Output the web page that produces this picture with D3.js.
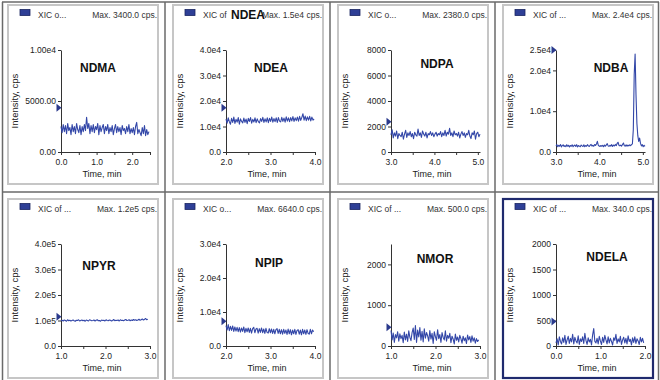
<!DOCTYPE html>
<html>
<head>
<meta charset="utf-8">
<script src="https://cdn.jsdelivr.net/npm/d3@7"></script>
<style>
  body { margin: 0; background: #fff; }
  svg { display: block; font-family: "Liberation Sans", Arial, sans-serif; }
</style>
</head>
<body>
<svg id="chart" width="660" height="380"></svg>
<script>
// ---- Data: one extracted-ion chromatogram per nitrosamine ----
const compounds = ["NDMA", "NDEA", "NDPA", "NDBA", "NPYR", "NPIP", "NMOR", "NDELA"];
const legendLabels = ["XIC o...", "XIC of ", "XIC o...", "XIC of ...", "XIC of ...", "XIC o...", "XIC of ...", "XIC of ..."];
const legendBold = ["", "NDEA", "", "", "", "", "", ""];
const maxLabels = ["Max. 3400.0 cps.", "Max. 1.5e4 cps.", "Max. 2380.0 cps.", "Max. 2.4e4 cps.",
                   "Max. 1.2e5 cps.", "Max. 6640.0 cps.", "Max. 500.0 cps.", "Max. 340.0 cps."];

// first and last scan time (min) of each trace
const scanRanges = [[0, 2.47], [2, 3.98], [3, 5.05], [3, 5.05], [1, 2.95], [2, 3.97], [1, 2.97], [0, 1.97]];

// axis ranges
const xDomains = [[0, 2.5], [2, 4], [3, 5.05], [3, 5.05], [1, 3], [2, 4], [1, 3], [0, 2]];
const yDomains = [[0, 10000], [0, 40000], [0, 8000], [0, 25000], [0, 400000], [0, 30000], [0, 2500], [0, 2000]];

// tick values and labels
const xTickValues = [
  [0, 0.5, 1, 1.5, 2, 2.5], [2, 2.5, 3, 3.5, 4], [3, 3.5, 4, 4.5, 5], [3, 3.5, 4, 4.5, 5],
  [1, 1.5, 2, 2.5, 3], [2, 2.5, 3, 3.5, 4], [1, 1.5, 2, 2.5, 3], [0, 0.5, 1, 1.5, 2]
];
const xTickLabels = [
  ["0.0", "", "1.0", "", "2.0", ""], ["2.0", "", "3.0", "", "4.0"], ["3.0", "", "4.0", "", "5.0"], ["3.0", "", "4.0", "", "5.0"],
  ["1.0", "", "2.0", "", "3.0"], ["2.0", "", "3.0", "", "4.0"], ["1.0", "", "2.0", "", "3.0"], ["0.0", "", "1.0", "", "2.0"]
];
const yTickValues = [
  [0, 5000, 10000], [0, 10000, 20000, 30000, 40000], [0, 2000, 4000, 6000, 8000], [0, 10000, 20000, 25000],
  [0, 100000, 200000, 300000, 400000], [0, 10000, 20000, 30000], [0, 1000, 2000], [0, 500, 1000, 1500, 2000]
];
const yTickLabels = [
  ["0.00", "5000.00", "1.00e4"], ["0.0", "1.0e4", "2.0e4", "3.0e4", "4.0e4"], ["0", "2000", "4000", "6000", "8000"],
  ["0.0", "1.0e4", "2.0e4", "2.5e4"], ["0.0", "1.0e5", "2.0e5", "3.0e5", "4.0e5"], ["0.0", "1.0e4", "2.0e4", "3.0e4"],
  ["0", "1000", "2000"], ["0", "500", "1000", "1500", "2000"]
];

// intensity level flagged by the arrow on each y axis (cps)
const markerLevels = [4350, 17400, 2380, 25000, 115000, 7300, 460, 480];

// intensities (cps), evenly spaced scans across scanRanges
const intensityNDMA = [
  2500, 1900, 2700, 2000, 2600, 1800, 2800, 2100, 2400, 1700,
  2700, 2000, 2500, 1800, 2800, 2200, 1900, 2600, 1700, 2500,
  2000, 2700, 2100, 3400, 2300, 2800, 1800, 2600, 2000, 2700,
  1900, 2500, 2200, 2800, 1700, 2600, 2000, 2400, 2700, 1800,
  2500, 2100, 2700, 1800, 2400, 2000, 2600, 1700, 2300, 2700,
  1900, 2500, 2000, 2400, 1700, 2600, 2100, 2300, 1800, 2500,
  2000, 2700, 1800, 2300, 1900, 2400, 1700, 2500, 2900, 1800,
  2200, 1900, 1600, 2400, 1800, 2600, 1600, 2200, 1700, 2000
];
const intensityNDEA = [
  12900, 11300, 13400, 11900, 10900, 13200, 11600, 13700, 11200, 12800,
  11700, 13500, 10900, 13000, 12000, 11400, 13300, 11600, 12900, 11100,
  13200, 12000, 13500, 11300, 12800, 11800, 13400, 11500, 13000, 11900,
  11400, 13100, 12000, 13600, 11600, 13000, 11800, 13400, 11500, 13200,
  12000, 13700, 11700, 13100, 11900, 13400, 11600, 13500, 12100, 11800,
  13600, 12000, 13300, 11700, 13800, 12100, 13400, 11900, 13500, 12200,
  13900, 12000, 13400, 12300, 13700, 12100, 14000, 12400, 13600, 15000,
  12500, 14100, 12300, 13800, 12500, 14000, 12200, 13700, 12500, 13000
];
const intensityNDPA = [
  1350, 1750, 1100, 1500, 1250, 1650, 1050, 1450, 1300, 1200,
  1550, 1000, 1400, 1700, 1150, 1500, 1300, 1600, 1200, 1450,
  1050, 1550, 1350, 1250, 1800, 1300, 1500, 1150, 1650, 1400,
  1250, 1550, 1100, 1450, 1350, 1600, 1300, 1500, 1200, 1400,
  1550, 1250, 1450, 1350, 1600, 1200, 1500, 1300, 1700, 1250,
  1550, 1400, 1850, 1300, 1500, 1200, 1650, 1350, 1450, 1250,
  1550, 1100, 1400, 1600, 1300, 1500, 1150, 1450, 1350, 1700,
  1250, 1050, 1500, 1350, 1650, 1000, 1450, 1550, 1200, 1400
];
const intensityNDBA = [
  1500, 1800, 1300, 1650, 1400, 1850, 1250, 1600, 1750, 1350,
  1550, 1300, 1800, 1400, 1650, 1250, 1600, 1400, 1750, 1300,
  1550, 1700, 1350, 1800, 1250, 1600, 1450, 1300, 1700, 1500,
  1350, 1750, 1300, 1600, 1400, 1800, 1500, 1350, 1650, 1850,
  1450, 1650, 1400, 1850, 1600, 1950, 2600, 1700, 1450, 1350,
  1600, 1400, 1650, 1300, 1700, 1450, 1750, 2050, 1500, 1400,
  1650, 1450, 1800, 1350, 1700, 1500, 1850, 1550, 2100, 2400,
  1650, 1500, 1700, 1450, 1850, 2200, 1550, 1450, 1750, 1400,
  1700, 1500, 1750, 1550, 1800, 2000, 5500, 19000, 24000, 14000,
  7000, 4000, 2600, 3400, 2100, 1500, 1800, 1300, 1650, 1400
];
const intensityNPYR = [
  99000, 101000, 98000, 102000, 100000, 97000, 103000, 99000, 101000, 98000,
  100000, 102000, 99000, 97000, 101000, 100000, 103000, 98000, 100000, 102000,
  99000, 101000, 97000, 102000, 100000, 98000, 103000, 101000, 99000, 100000,
  102000, 98000, 101000, 103000, 99000, 100000, 97000, 102000, 100000, 101000,
  98000, 103000, 100000, 99000, 102000, 101000, 98000, 100000, 104000, 99000,
  101000, 100000, 102000, 98000, 103000, 100000, 101000, 99000, 102000, 104000,
  100000, 101000, 103000, 99000, 102000, 100000, 104000, 101000, 103000, 100000,
  102000, 105000, 101000, 103000, 106000, 102000, 104000, 108000, 103000, 105000
];
const intensityNPIP = [
  6000, 4700, 6300, 4500, 5800, 4600, 5900, 4300, 5600, 4400,
  5500, 4200, 5400, 4100, 5300, 4300, 5600, 3900, 5200, 4200,
  5300, 4000, 5200, 3800, 5100, 5500, 3900, 5000, 5200, 3800,
  5100, 4000, 5300, 3900, 5000, 3700, 5200, 4000, 3800, 5100,
  3900, 5000, 3700, 4900, 3600, 4800, 5100, 3700, 4900, 3600,
  4800, 3500, 4900, 3700, 4700, 3400, 5000, 3600, 4800, 3300,
  4700, 3600, 4900, 3400, 4600, 4800, 3500, 4700, 3300, 4900,
  3600, 4700, 3400, 4800, 3700, 3500, 4900, 3600, 4700, 4200
];
const intensityNMOR = [
  380, 150, 320, 90, 280, 200, 350, 120, 300, 180,
  260, 80, 340, 150, 290, 110, 370, 210, 130, 330,
  440, 160, 500, 90, 390, 220, 450, 140, 360, 100,
  420, 190, 330, 250, 120, 380, 170, 310, 60, 350,
  230, 140, 400, 180, 280, 90, 330, 210, 150, 370,
  120, 260, 190, 310, 80, 240, 170, 50, 290, 140,
  220, 100, 260, 180, 70, 240, 130, 200, 60, 270,
  150, 230, 90, 250, 120, 200, 70, 180, 110, 150
];
const intensityNDELA = [
  60, 140, 20, 180, 90, 40, 160, 70, 210, 30,
  120, 190, 50, 150, 80, 230, 40, 170, 100, 60,
  200, 30, 140, 90, 180, 50, 250, 110, 30, 160,
  80, 130, 20, 220, 340, 90, 60, 150, 40, 190,
  100, 30, 170, 70, 210, 120, 40, 180, 60, 150,
  90, 20, 160, 110, 230, 50, 140, 80, 190, 30,
  120, 170, 60, 150, 40, 200, 90, 130, 20, 160,
  70, 180, 50, 140, 100, 30, 170, 80, 150, 60
];
const intensities = [intensityNDMA, intensityNDEA, intensityNDPA, intensityNDBA,
                     intensityNPYR, intensityNPIP, intensityNMOR, intensityNDELA];

// ---- Layout ----
const cellW = 165, rowStep = 194;
const plot = { left: 61, right: 150, top: 50, bottom: 152 };
// compound-name annotation placement inside each pane (centre x, baseline y)
const titleSpots = [[98, 72], [106, 72], [107, 68], [116, 72], [99, 76], [104, 73], [105, 69], [112, 67]];
const selectedPane = 7;

const traceColor = "#3347a8";
const swatchColor = "#2e3f96";
const markerColor = "#2b3a8c";
const axisColor = "#333";
const textColor = "#222";

const svg = d3.select("#chart");
svg.append("rect").attr("width", 660).attr("height", 380).attr("fill", "#fff");

// pane boxes
compounds.forEach((name, i) => {
  const ox = (i % 4) * cellW, oy = Math.floor(i / 4) * rowStep;
  const sel = i === selectedPane;
  svg.append("rect")
    .attr("x", ox + 8).attr("y", oy + 5)
    .attr("width", 150).attr("height", 179)
    .attr("fill", "#fff")
    .attr("stroke", sel ? "#1f2a6e" : "#c6c6c6")
    .attr("stroke-width", sel ? 2.2 : 2);
});

// outer frame and separators
const frame = svg.append("g").attr("stroke", "#6a6a6a").attr("stroke-width", 1.5).attr("fill", "none");
frame.append("line").attr("x1", 2).attr("x2", 659).attr("y1", 2).attr("y2", 2);
frame.append("line").attr("x1", 2.5).attr("x2", 2.5).attr("y1", 2).attr("y2", 380);
frame.append("line").attr("x1", 658.5).attr("x2", 658.5).attr("y1", 2).attr("y2", 380);
[165, 330, 495].forEach(x => frame.append("line").attr("x1", x).attr("x2", x).attr("y1", 2).attr("y2", 380));
frame.append("line").attr("x1", 2).attr("x2", 659).attr("y1", 192).attr("y2", 192);

// chromatogram panes
compounds.forEach((name, i) => {
  const ox = (i % 4) * cellW, oy = Math.floor(i / 4) * rowStep;
  const g = svg.append("g").attr("transform", `translate(${ox},${oy})`);

  const x = d3.scaleLinear().domain(xDomains[i]).range([plot.left, plot.right]);
  const y = d3.scaleLinear().domain(yDomains[i]).range([plot.bottom, plot.top]);
  const t = d3.scaleLinear().domain([0, intensities[i].length - 1]).range(scanRanges[i]);

  // legend row
  g.append("rect").attr("x", 20).attr("y", 9.5).attr("width", 10).attr("height", 6)
    .attr("fill", swatchColor).attr("stroke", "#1a2560").attr("stroke-width", 0.8);
  g.append("text").attr("x", 38).attr("y", 17.5)
    .attr("font-size", 8.5).attr("fill", "#333").text(legendLabels[i]);
  g.append("text").attr("x", 157).attr("y", 17.5).attr("text-anchor", "end")
    .attr("font-size", 8.5).attr("fill", "#333").text(maxLabels[i]);
  if (legendBold[i]) {
    g.append("text").attr("x", 66).attr("y", 18.5)
      .attr("font-size", 12).attr("font-weight", "bold").attr("fill", "#111")
      .text(legendBold[i]);
  }

  // axes
  const yAxis = d3.axisLeft(y)
    .tickValues(yTickValues[i])
    .tickFormat((d, k) => yTickLabels[i][k])
    .tickSize(3).tickSizeOuter(0).tickPadding(2);
  const xAxis = d3.axisBottom(x)
    .tickValues(xTickValues[i])
    .tickFormat((d, k) => xTickLabels[i][k])
    .tickSize(3).tickSizeOuter(0).tickPadding(4);

  const ya = g.append("g").attr("transform", `translate(${plot.left},0)`).call(yAxis);
  const xa = g.append("g").attr("transform", `translate(0,${plot.bottom})`).call(xAxis);
  [ya, xa].forEach(a => {
    a.selectAll("path").attr("stroke", axisColor).attr("stroke-width", 1);
    a.selectAll("line").attr("stroke", axisColor);
    a.selectAll("text").attr("font-size", 8.5).attr("fill", textColor)
      .attr("font-family", '"Liberation Sans", Arial, sans-serif');
  });

  // trace
  const line = d3.line()
    .x((d, k) => x(t(k)))
    .y(d => y(d));
  g.append("path").datum(intensities[i])
    .attr("d", line)
    .attr("fill", "none")
    .attr("stroke", traceColor)
    .attr("stroke-width", 1.1)
    .attr("stroke-linejoin", "round");

  // level marker on the y axis
  const my = y(markerLevels[i]);
  g.append("path")
    .attr("d", `M${plot.left - 4.5},${my - 4}L${plot.left + 0.5},${my}L${plot.left - 4.5},${my + 4}Z`)
    .attr("fill", markerColor);

  // compound name
  g.append("text").attr("x", titleSpots[i][0]).attr("y", titleSpots[i][1])
    .attr("text-anchor", "middle").attr("font-size", 12).attr("font-weight", "bold")
    .attr("fill", "#111").text(name);

  // axis titles
  g.append("text")
    .attr("transform", `translate(18,${(plot.top + plot.bottom) / 2}) rotate(-90)`)
    .attr("text-anchor", "middle").attr("font-size", 9.5).attr("fill", textColor)
    .text("Intensity, cps");
  g.append("text").attr("x", 102).attr("y", 177)
    .attr("text-anchor", "middle").attr("font-size", 9).attr("fill", textColor)
    .text("Time, min");
});
</script>
</body>
</html>
